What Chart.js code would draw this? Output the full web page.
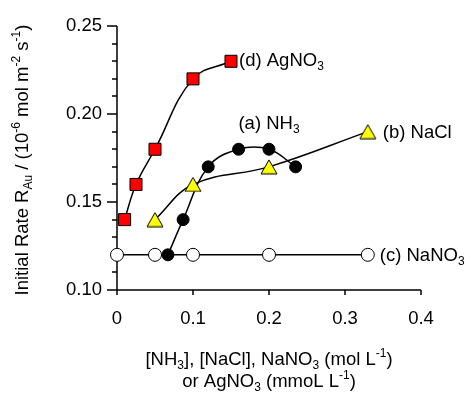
<!DOCTYPE html>
<html><head><meta charset="utf-8">
<script src="https://cdn.jsdelivr.net/npm/chart.js@4/dist/chart.umd.min.js"></script>
<style>html,body{margin:0;padding:0;background:#fff}#wrap{width:476px;height:396px}</style>
</head><body><div id="wrap"><canvas id="c" width="476" height="396"></canvas></div>
<script>
// ---- data ----
const xNH3   = [0.067, 0.087, 0.12, 0.16, 0.20, 0.235];
const yNH3   = [0.12, 0.14, 0.17, 0.18, 0.18, 0.17];
const xNaCl  = [0.05, 0.10, 0.20, 0.33];
const yNaCl  = [0.14, 0.16, 0.17, 0.19];
const xNaNO3 = [0, 0.05, 0.10, 0.20, 0.33];
const yNaNO3 = [0.12, 0.12, 0.12, 0.12, 0.12];
const xAgNO3 = [0.01, 0.025, 0.05, 0.10, 0.15];
const yAgNO3 = [0.14, 0.16, 0.18, 0.22, 0.23];
const seriesNames = ['(a) NH_{3}', '(b) NaCl', '(c) NaNO_{3}', '(d) AgNO_{3}'];
const xTicks = [0, 0.1, 0.2, 0.3, 0.4];
const yMajorTicks = [0.10, 0.15, 0.20, 0.25];
const xTitleLines = ['[NH_{3}], [NaCl], NaNO_{3} (mol L^{-1})', 'or AgNO_{3} (mmoL L^{-1})'];
const yTitle = 'Initial Rate R_{Au} / (10^{-6} mol m^{-2} s^{-1})';

const FAMILY = '"Liberation Sans", Arial, Helvetica, sans-serif';
const FS = 18.5;

function pts(xs, ys){ return xs.map((x,i)=>({x:x, y:ys[i]})); }

function parseRich(s){
  const parts = s.split(/(_\{[^}]*\}|\^\{[^}]*\})/).filter(p=>p.length);
  return parts.map(p=>{
    if (p.startsWith('_{')) return {t:p.slice(2,-1), k:'sub'};
    if (p.startsWith('^{')) return {t:p.slice(2,-1), k:'sup'};
    return {t:p, k:'n'};
  });
}
function segFont(k, size){ return (k==='n'? size : Math.round(size*0.65)) + 'px ' + FAMILY; }
function richWidth(ctx, segs, size){
  let w=0; segs.forEach(s=>{ctx.font=segFont(s.k,size); w+=ctx.measureText(s.t).width;}); return w;
}
function drawRich(ctx, str, x, y, size, align){
  const segs = parseRich(str);
  const w = richWidth(ctx, segs, size);
  let cx = align==='center' ? x - w/2 : x;
  ctx.textBaseline='alphabetic'; ctx.textAlign='left'; ctx.fillStyle='#000';
  segs.forEach(s=>{
    ctx.font = segFont(s.k,size);
    let dy = 0;
    if (s.k==='sub') dy = size*0.22;
    if (s.k==='sup') dy = -size*0.42;
    ctx.fillText(s.t, cx, y+dy);
    cx += ctx.measureText(s.t).width;
  });
}

// triangle marker centred on its bounding box
function makeTriangle(w, h){
  const c = document.createElement('canvas');
  c.width = w + 2; c.height = h + 2;
  const g = c.getContext('2d');
  g.beginPath();
  g.moveTo(c.width/2, 1); g.lineTo(c.width-1, c.height-1); g.lineTo(1, c.height-1); g.closePath();
  g.fillStyle = '#FFFF00'; g.fill();
  g.strokeStyle = '#000'; g.lineWidth = 1; g.stroke();
  return c;
}
const triImg = makeTriangle(16, 14);

const axesPlugin = {
  id:'axesPlugin',
  beforeDatasetsDraw(chart){
    const ctx = chart.ctx, xs = chart.scales.x, ys = chart.scales.y, a = chart.chartArea;
    ctx.save();
    ctx.strokeStyle='#000'; ctx.lineWidth=1.5; ctx.lineCap='butt';
    ctx.beginPath();
    ctx.moveTo(a.left, a.top); ctx.lineTo(a.left, a.bottom+5);
    ctx.moveTo(a.left-1, a.bottom); ctx.lineTo(a.right, a.bottom);
    for (let i=0;i<=15;i++){
      const v = 0.10 + i*0.01;
      const py = Math.round(ys.getPixelForValue(v));
      const major = (i%5===0);
      ctx.moveTo(a.left - (major?10:5), py); ctx.lineTo(a.left, py);
    }
    xTicks.forEach(v=>{
      const px = xs.getPixelForValue(v);
      ctx.moveTo(px, a.bottom); ctx.lineTo(px, a.bottom+5);
    });
    ctx.stroke();
    ctx.restore();
  },
  afterDraw(chart){
    const ctx = chart.ctx, a = chart.chartArea;
    ctx.save();
    const cx = (a.left + a.right)/2;
    drawRich(ctx, xTitleLines[0], cx, 365, FS, 'center');
    drawRich(ctx, xTitleLines[1], cx, 387, FS, 'center');
    ctx.translate(28, (a.top + a.bottom)/2 + 2);
    ctx.rotate(-Math.PI/2);
    drawRich(ctx, yTitle, 0, 0, FS, 'center');
    ctx.restore();
  },
  afterDatasetsDraw(chart){
    const ctx = chart.ctx, xs = chart.scales.x, ys = chart.scales.y;
    ctx.save();
    drawRich(ctx, seriesNames[0], xs.getPixelForValue(xNH3[4]), ys.getPixelForValue(yNH3[4]) - 20, FS, 'center');
    let n = xNaCl.length-1;
    drawRich(ctx, seriesNames[1], xs.getPixelForValue(xNaCl[n]) + 15, ys.getPixelForValue(yNaCl[n]) + 6, FS, 'left');
    n = xNaNO3.length-1;
    drawRich(ctx, seriesNames[2], xs.getPixelForValue(xNaNO3[n]) + 12, ys.getPixelForValue(yNaNO3[n]) + 6, FS, 'left');
    n = xAgNO3.length-1;
    drawRich(ctx, seriesNames[3], xs.getPixelForValue(xAgNO3[n]) + 8, ys.getPixelForValue(yAgNO3[n]) + 5, FS, 'left');
    ctx.restore();
  }
};

const common = {showLine:true, borderColor:'#000', borderWidth:1.5, tension:0.4, clip:false, pointBorderColor:'#000', pointBorderWidth:1, pointHoverRadius:0};

new Chart(document.getElementById('c').getContext('2d'), {
  type:'scatter',
  data:{datasets:[
    Object.assign({}, common, {label:'NaCl', data:pts(xNaCl,yNaCl), pointStyle:triImg, pointRadius:9, pointBackgroundColor:'#FFFF00', order:1}),
    Object.assign({}, common, {label:'NH3', data:pts(xNH3,yNH3), pointStyle:'circle', pointRadius:6, pointBackgroundColor:'#000000', order:2}),
    Object.assign({}, common, {label:'NaNO3', data:pts(xNaNO3,yNaNO3), pointStyle:'circle', pointRadius:6.5, pointBackgroundColor:'#FFFFFF', order:3}),
    Object.assign({}, common, {label:'AgNO3', data:pts(xAgNO3,yAgNO3), pointStyle:'rect', pointRadius:8.5, pointBackgroundColor:'#FF0000', order:4})
  ]},
  options:{
    responsive:false, animation:false, devicePixelRatio:1,
    layout:{padding:{top:19, right:55, left:0, bottom:0}},
    plugins:{legend:{display:false}, tooltip:{enabled:false}},
    events:[],
    scales:{
      x:{type:'linear', min:0, max:0.4,
         grid:{display:false, drawTicks:false}, border:{display:false},
         afterBuildTicks:s=>{ s.ticks = xTicks.map(v=>({value:v})); },
         ticks:{padding:18, color:'#000', font:{family:FAMILY, size:FS}, maxRotation:0,
                callback:v=> v===0 ? '0' : v.toFixed(1)},
         afterFit:s=>{ s.height = 106; }},
      y:{type:'linear', min:0.10, max:0.25,
         grid:{display:false, drawTicks:false}, border:{display:false},
         afterBuildTicks:s=>{ s.ticks = yMajorTicks.map(v=>({value:v})); },
         ticks:{padding:15, color:'#000', font:{family:FAMILY, size:FS},
                callback:v=> v.toFixed(2)},
         afterFit:s=>{ s.width = 117; }}
    }
  },
  plugins:[axesPlugin]
});
</script></body></html>
